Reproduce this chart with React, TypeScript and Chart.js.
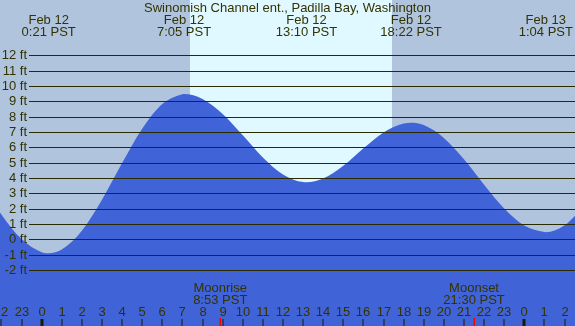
import React, { useEffect, useRef } from "react";
import { Chart, registerables } from "chart.js";

Chart.register(...registerables);

const title = "Swinomish Channel ent., Padilla Bay, Washington";

// hours since midnight Feb 12 (PST) and tide height in ft
const tideHours = [-5.9, -5, -4, -3, -2, -1, 0, 0.35, 1, 2, 3, 4, 5, 6, 7, 7.08, 8, 9, 10, 11, 12, 13, 13.17, 14, 15, 16, 17, 18, 18.37, 19, 20, 21, 22, 23, 24, 25, 25.07, 26, 27, 28];
const tideFeet = [7.5, 7.08, 5.73, 3.7, 1.62, 0.02, -0.84, -0.91, -0.67, 0.56, 2.58, 4.97, 7.21, 8.82, 9.46, 9.47, 9.15, 8.17, 6.78, 5.34, 4.23, 3.73, 3.72, 3.96, 4.79, 5.93, 6.97, 7.55, 7.6, 7.45, 6.61, 5.22, 3.56, 2.01, 0.9, 0.47, 0.46, 0.91, 2.3, 4.3];

const extremeHours = [0.35, 7.08, 13.17, 18.37, 25.07];
const extremeDates = ["Feb 12", "Feb 12", "Feb 12", "Feb 12", "Feb 13"];
const extremeClock = ["0:21 PST", "7:05 PST", "13:10 PST", "18:22 PST", "1:04 PST"];

const sunriseHour = 7.375;
const sunsetHour = 17.42;

const moonHours = [8.88, 21.5];
const moonNames = ["Moonrise", "Moonset"];
const moonClock = ["8:53 PST", "21:30 PST"];

const feetTicks = [-2, -1, 0, 1, 2, 3, 4, 5, 6, 7, 8, 9, 10, 11, 12];
const hourTicks = [-2, -1, 0, 1, 2, 3, 4, 5, 6, 7, 8, 9, 10, 11, 12, 13, 14, 15, 16, 17, 18, 19, 20, 21, 22, 23, 24, 25, 26];

const X_MIN = -2.07;
const X_MAX = 26.52;
const Y_MIN = -5.65;
const Y_MAX = 15.6;

const NIGHT = "#b0c4de";
const DAY = "#e0f8ff";
const WATER = "#4163d8";
const INK = "#333300";
const LINE = "#2a2a00";
const FONT = "Liberation Sans, Arial, sans-serif";

const decorPlugin = {
  id: "tideDecor",
  beforeDatasetsDraw(chart: any) {
    const { ctx, chartArea, scales } = chart;
    const xs = scales.x;
    ctx.save();
    ctx.fillStyle = NIGHT;
    ctx.fillRect(chartArea.left, chartArea.top, chartArea.right - chartArea.left, chartArea.bottom - chartArea.top);
    const a = xs.getPixelForValue(sunriseHour);
    const b = xs.getPixelForValue(sunsetHour);
    ctx.fillStyle = DAY;
    ctx.fillRect(a, chartArea.top, b - a, chartArea.bottom - chartArea.top);
    ctx.restore();
  },
  afterDatasetsDraw(chart: any) {
    const { ctx, chartArea, scales } = chart;
    const xs = scales.x;
    const ys = scales.y;
    ctx.save();
    // horizontal grid + labels
    ctx.font = `13px ${FONT}`;
    ctx.textAlign = "right";
    ctx.textBaseline = "middle";
    for (const f of feetTicks) {
      const y = Math.round(ys.getPixelForValue(f)) + 0.5;
      ctx.strokeStyle = LINE;
      ctx.lineWidth = 1;
      ctx.beginPath();
      ctx.moveTo(29, y);
      ctx.lineTo(chartArea.right, y);
      ctx.stroke();
      ctx.fillStyle = INK;
      ctx.fillText(`${f} ft`, 27, y);
    }
    // title
    ctx.textAlign = "center";
    ctx.textBaseline = "alphabetic";
    ctx.fillStyle = INK;
    ctx.fillText(title, (chartArea.left + chartArea.right) / 2, 12);
    // extremes
    extremeHours.forEach((h, i) => {
      const x = xs.getPixelForValue(h);
      ctx.fillText(extremeDates[i], x, 24);
      ctx.fillText(extremeClock[i], x, 36);
    });
    // moon
    moonHours.forEach((h, i) => {
      const x = xs.getPixelForValue(h);
      ctx.fillText(moonNames[i], x, 292);
      ctx.fillText(moonClock[i], x, 304);
    });
    // hour labels and ticks
    ctx.font = `13px ${FONT}`;
    for (const h of hourTicks) {
      const x = Math.round(xs.getPixelForValue(h));
      const label = String(((h % 24) + 24) % 24);
      ctx.fillStyle = INK;
      ctx.fillText(label, x, 316);
      ctx.fillStyle = "#1a1a00";
      if (label === "0") {
        ctx.fillRect(x - 1.5, 319, 3, chartArea.bottom - 319);
      } else {
        ctx.fillRect(x - 0.5, 319, 1, chartArea.bottom - 319);
      }
    }
    ctx.fillStyle = "#ff0000";
    for (const h of moonHours) {
      const x = Math.round(xs.getPixelForValue(h));
      ctx.fillRect(x - 0.5, 318, 1.5, chartArea.bottom - 318);
    }
    ctx.restore();
  },
};

export default function App() {
  const ref = useRef<HTMLCanvasElement | null>(null);
  useEffect(() => {
    document.body.style.margin = "0";
    if (!ref.current) return;
    const points = tideHours.map((h, i) => ({ x: h, y: tideFeet[i] }));
    const chart = new Chart(ref.current, {
      type: "line",
      data: {
        datasets: [
          {
            data: points,
            borderWidth: 0,
            borderColor: WATER,
            backgroundColor: WATER,
            fill: "start",
            pointRadius: 0,
            cubicInterpolationMode: "monotone",
          } as any,
        ],
      },
      options: {
        animation: false,
        responsive: false,
        layout: { padding: 0 },
        scales: {
          x: { type: "linear", min: X_MIN, max: X_MAX, display: false },
          y: { type: "linear", min: Y_MIN, max: Y_MAX, display: false },
        },
        plugins: { legend: { display: false }, tooltip: { enabled: false } },
        events: [],
      },
      plugins: [decorPlugin],
    });
    return () => chart.destroy();
  }, []);
  return (
    <div style={{ position: "fixed", left: 0, top: 0, width: 575, height: 326 }}>
      <canvas ref={ref} width={575} height={326} style={{ width: 575, height: 326, display: "block" }} />
    </div>
  );
}
